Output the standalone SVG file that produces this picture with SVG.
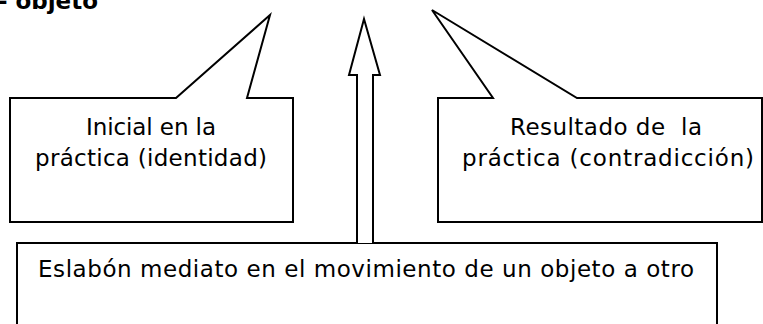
<svg xmlns="http://www.w3.org/2000/svg" width="763" height="324" viewBox="0 0 763 324">
<style>
.shape{fill:#fff;stroke:#000;stroke-width:2;stroke-linejoin:miter}
.t{font-family:"DejaVu Sans","Verdana",sans-serif;font-size:23px;fill:#000}
.c{text-anchor:middle}
</style>
<rect width="763" height="324" fill="#fff"/>
<text x="98" y="9" font-family="DejaVu Sans, sans-serif" font-weight="bold" font-size="23" text-anchor="end">- objeto</text>
<g id="callout-left">
<path class="shape" d="M10,98 H176 L270,15 L247,98 H293 V222 H10 Z"/>
<text class="t c" x="151" y="135" textLength="130">Inicial en la</text>
<text class="t c" x="151" y="166" textLength="232">práctica (identidad)</text>
</g>
<g id="callout-right">
<path class="shape" d="M438,98 H493 L432,10 L577,98 H762 V222 H438 Z"/>
<text class="t c" x="606" y="135" textLength="192" xml:space="preserve">Resultado de  la</text>
<text class="t c" x="608" y="166" textLength="292">práctica (contradicción)</text>
</g>
<g id="box-bottom">
<rect class="shape" x="17" y="243" width="700" height="100"/>
<text class="t" x="38" y="277" textLength="656">Eslabón mediato en el movimiento de un objeto a otro</text>
</g>
<g id="connectors">
<path class="shape" d="M357,243 V75 H349 L364,19 L380,75 H373 V243"/>
</g>
</svg>
